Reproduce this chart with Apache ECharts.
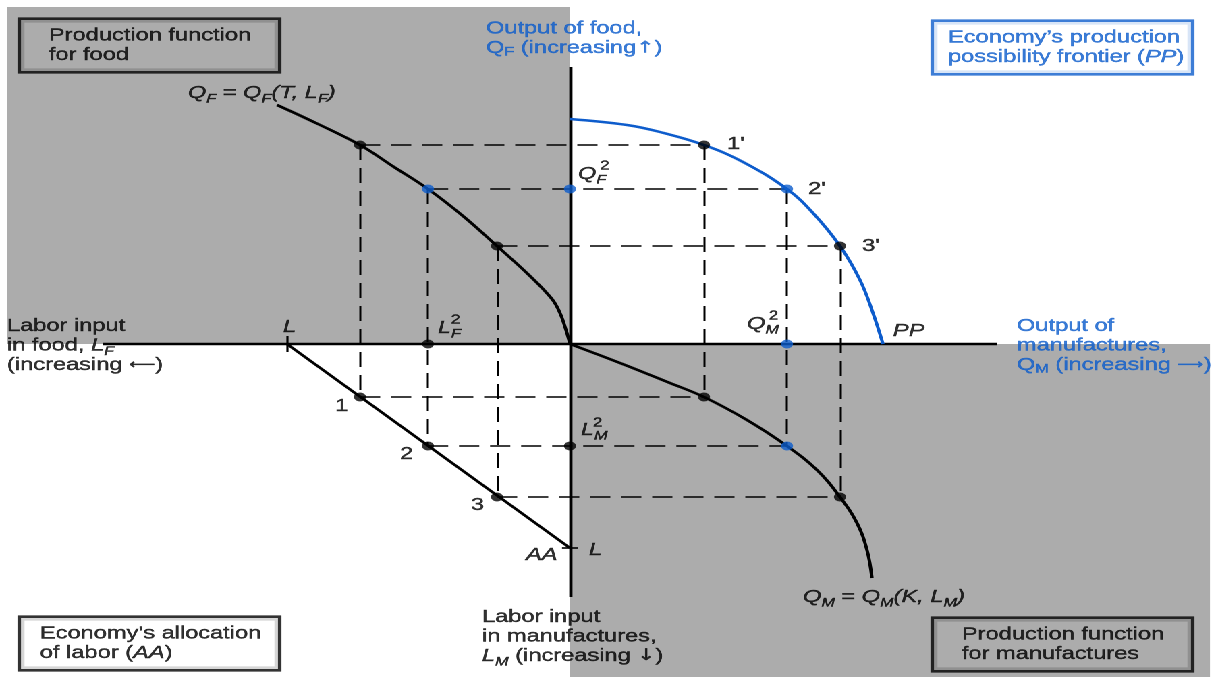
<!DOCTYPE html>
<html lang="en">
<head>
<meta charset="UTF-8">
<title>Production possibility frontier</title>
<script src="https://cdn.jsdelivr.net/npm/echarts@6/dist/echarts.min.js"></script>
<style>
  html, body {margin: 0; padding: 0; background: #fff; overflow: hidden;}
  #wrap {width: 1216px; height: 677px; overflow: hidden;}
  /* the source figure is stretched sideways, so the chart gets the same stretch */
  #chart {width: 901px; height: 677px; transform: scaleX(1.3496); transform-origin: 0 0;}
</style>
</head>
<body>
<div id="wrap"><div id="chart"></div></div>
<script>
  // three labour allocations (points 1, 2, 3)
  var allocLF = [21.0, 14.2, 7.3];   // labour in food (plotted to the left)
  var allocQF = [19.9, 15.5, 9.8];   // food output
  var allocQM = [13.4, 21.7, 27.0];  // manufactures output
  var allocLM = [5.3, 10.2, 15.3];   // labour in manufactures (plotted downward)
  var totalL = [28.3, 20.4];         // L on the food axis, L on the manufactures axis

  // production function for food
  var foodLF = [29.3, 25.2, 21.0, 17.6, 14.2, 10.7, 7.3, 4.0, 1.8, 1.0, 0.4, 0];
  var foodQF = [23.9, 22.0, 19.9, 17.7, 15.5, 12.8, 9.8, 6.8, 4.5, 3.1, 1.4, 0];
  // production possibility frontier
  var ppQM = [0, 5.7, 9.0, 13.4, 17.3, 21.7, 24.3, 27.0, 29.0, 30.3, 31.3];
  var ppQF = [22.5, 21.9, 21.2, 19.9, 18.2, 15.5, 13.1, 9.8, 6.4, 3.1, 0];
  // production function for manufactures
  var manQM = [0, 5.0, 10.0, 13.4, 17.7, 21.7, 24.7, 27.0, 28.7, 29.7, 30.2];
  var manLM = [0, 1.9, 3.9, 5.3, 7.6, 10.2, 12.6, 15.3, 17.9, 20.6, 23.4];

  // axis extents
  var axisX = [-46.7, 42.7];
  var axisY = [-25.3, 27.7];
  // shaded quadrants [x1, y1, x2, y2]
  var shaded = [[-56.3, 0, 0, 33.7], [0, -33.3, 64, 0]];

  var FONT = '"Liberation Sans", Arial, sans-serif';
  var ARROW_FONT = '"DejaVu Sans", sans-serif';
  var BLUE = '#0d5ccc';
  var GRAY = '#acacac';

  function tok(size, color, italic, drop, family) {
    var s = {fontFamily: family || FONT, fontSize: size, color: color, fontStyle: italic ? 'italic' : 'normal',
             textBorderColor: color, textBorderWidth: 0.4};
    if (drop) s.padding = [drop, 0, 0, 0];
    return s;
  }
  var rich = {
    n: tok(17.5, '#000'), i: tok(17.5, '#000', true),
    is: tok(12, '#000', true, 12),
    b: tok(17.5, BLUE), bi: tok(17.5, BLUE, true), bs: tok(12, BLUE, false, 8),
    ar: tok(16, '#000', false, 0, ARROW_FONT), bar: tok(16, BLUE, false, 0, ARROW_FONT),
    lar: tok(13.5, '#000', false, 0, ARROW_FONT), blar: tok(13.5, BLUE, false, 0, ARROW_FONT),
    sup: tok(12.5, '#000')
  };

  // text notes: anchor is the left edge, vertical middle unless v is given
  var notes = [
    {at: [-8.4, 32.5], v: 'top', text: '{b|Output of food,}\n{b|Q}{bs|F}{b| (increasing}{bar|↑}{b|)}'},
    {at: [-38.2, 25.1], text: '{i|Q}{is|F}{n| = }{i|Q}{is|F}{i|(T, L}{is|F}{i|)}'},
    {at: [-56.3, -0.15], text: '{n|Labor input}\n{n|in food, }{i|L}{is|F}\n{n|(increasing }{lar|⟵}{n|)}'},
    {at: [-28.7, 1.7], text: '{i|L}'},
    {at: [-13.2, 1.6], text: '{i|L}{is|F}'}, {at: [-11.9, 2.4], text: '{sup|2}'},
    {at: [0.8, 17.0], text: '{i|Q}{is|F}'}, {at: [3.0, 17.8], text: '{sup|2}'},
    {at: [15.7, 20.0], text: "{n|1'}"}, {at: [23.8, 15.5], text: "{n|2'}"}, {at: [29.2, 9.8], text: "{n|3'}"},
    {at: [17.7, 2.0], text: '{i|Q}{is|M}'}, {at: [19.9, 2.8], text: '{sup|2}'},
    {at: [32.3, 1.3], text: '{i|PP}'},
    {at: [44.7, -0.15], text: '{b|Output of}\n{b|manufactures,}\n{b|Q}{bs|M}{b| (increasing }{blar|⟶}{b|)}'},
    {at: [-23.5, -6.2], text: '{n|1}'}, {at: [-17.0, -11.0], text: '{n|2}'}, {at: [-9.9, -16.1], text: '{n|3}'},
    {at: [1.1, -8.6], text: '{i|L}{is|M}'}, {at: [2.3, -7.9], text: '{sup|2}'},
    {at: [-4.4, -21.1], text: '{i|AA}'},
    {at: [1.9, -20.6], text: '{i|L}'},
    {at: [-8.8, -29.25], text: '{n|Labor input}\n{n|in manufactures,}\n{i|L}{is|M}{n| (increasing }{ar|↓}{n|)}'},
    {at: [23.3, -25.3], text: '{i|Q}{is|M}{n| = }{i|Q}{is|M}{i|(K, L}{is|M}{i|)}'}
  ];

  // framed captions
  var boxes = [
    {at: [-54.9, 32.4], text: '{n|Production function}\n{n|for food}', fill: GRAY, edge: '#000', indent: 20.7},
    {at: [-54.9, -27.4], text: '{n|Economy’s allocation}\n{n|of labor (}{i|AA}{n|)}', fill: '#fff', edge: '#000', indent: 14},
    {at: [36.4, 32.2], text: '{b|Economy’s production}\n{b|possibility frontier (}{bi|PP}{b|)}', fill: '#fff', edge: BLUE, indent: 10.4},
    {at: [36.4, -27.5], text: '{n|Production function}\n{n|for manufactures}', fill: GRAY, edge: '#000', indent: 20.7}
  ];

  function zip(xs, ys, sx, sy) {
    return xs.map(function (v, k) { return [sx * v, sy * ys[k]]; });
  }

  // dashed guide lines
  var dashH = [], dashV = [];
  for (var i = 0; i < allocLF.length; i++) {
    dashH.push({coords: [[-allocLF[i], allocQF[i]], [allocQM[i], allocQF[i]]]});
    dashH.push({coords: [[-allocLF[i], -allocLM[i]], [allocQM[i], -allocLM[i]]]});
    dashV.push({coords: [[-allocLF[i], allocQF[i]], [-allocLF[i], -allocLM[i]]]});
    dashV.push({coords: [[allocQM[i], allocQF[i]], [allocQM[i], -allocLM[i]]]});
  }

  // solid straight lines: axes and AA
  var solid = [
    {coords: [[axisX[0], 0], [axisX[1], 0]]},
    {coords: [[0, axisY[0]], [0, axisY[1]]]},
    {coords: [[-totalL[0], 0], [0, -totalL[1]]]}
  ];
  // the two L ticks
  var ticks = [
    {coords: [[-totalL[0], 0.8], [-totalL[0], -0.8]]},
    {coords: [[-0.8, -totalL[1]], [0.8, -totalL[1]]]}
  ];

  // dots
  var dots = [];
  for (var j = 0; j < allocLF.length; j++) {
    var c = j === 1 ? BLUE : '#000';
    dots.push({value: [-allocLF[j], allocQF[j]], itemStyle: {color: c}});
    dots.push({value: [allocQM[j], allocQF[j]], itemStyle: {color: c}});
    dots.push({value: [allocQM[j], -allocLM[j]], itemStyle: {color: c}});
    dots.push({value: [-allocLF[j], -allocLM[j]], itemStyle: {color: '#000'}});
  }
  dots.push({value: [0, allocQF[1]], itemStyle: {color: BLUE}});
  dots.push({value: [allocQM[1], 0], itemStyle: {color: BLUE}});
  dots.push({value: [-allocLF[1], 0], itemStyle: {color: '#000'}});
  dots.push({value: [0, -allocLM[1]], itemStyle: {color: '#000'}});

  var noteData = notes.map(function (d) {
    return {value: d.at, text: d.text, label: {verticalAlign: d.v || 'middle'}};
  });
  var boxData = boxes.map(function (d) {
    return {
      value: d.at, text: d.text,
      label: {
        backgroundColor: d.fill, borderColor: d.edge, borderWidth: 2.6,
        padding: [6, 0, 6, d.indent], width: 190.4 - d.indent
      }
    };
  });

  var chart = echarts.init(document.getElementById('chart'), null, {devicePixelRatio: 2});
  var option = {
    animation: false,
    backgroundColor: '#fff',
    textStyle: {fontFamily: FONT},
    grid: {left: 0, right: 0, top: 0, bottom: 0},
    xAxis: {type: 'value', min: -57, max: 64.6, show: false},
    yAxis: {type: 'value', min: -33.3, max: 34.4, show: false},
    series: [
      {
        type: 'custom', silent: true, z: 0,
        data: shaded,
        renderItem: function (params, api) {
          var p1 = api.coord([api.value(0), api.value(3)]);
          var p2 = api.coord([api.value(2), api.value(1)]);
          return {type: 'rect', shape: {x: p1[0], y: p1[1], width: p2[0] - p1[0], height: p2[1] - p1[1]},
                  style: {fill: GRAY}};
        }
      },
      {type: 'lines', coordinateSystem: 'cartesian2d', silent: true, z: 1, data: dashH,
       lineStyle: {color: '#000', width: 1.6, type: [15, 8], opacity: 1}},
      {type: 'lines', coordinateSystem: 'cartesian2d', silent: true, z: 1, data: dashV,
       lineStyle: {color: '#000', width: 1.5, type: [15, 8], opacity: 1}},
      {type: 'lines', coordinateSystem: 'cartesian2d', silent: true, z: 2, data: solid,
       lineStyle: {color: '#000', width: 2.4, opacity: 1}},
      {type: 'lines', coordinateSystem: 'cartesian2d', silent: true, z: 2, data: ticks,
       lineStyle: {color: '#000', width: 1.6, opacity: 1}},
      {type: 'line', silent: true, z: 3, smooth: 0.4, showSymbol: false,
       data: zip(foodLF, foodQF, -1, 1), lineStyle: {color: '#000', width: 2.5}},
      {type: 'line', silent: true, z: 3, smooth: 0.4, showSymbol: false,
       data: zip(ppQM, ppQF, 1, 1), lineStyle: {color: BLUE, width: 2.5}},
      {type: 'line', silent: true, z: 3, smooth: 0.4, showSymbol: false,
       data: zip(manQM, manLM, 1, -1), lineStyle: {color: '#000', width: 2.5}},
      {type: 'scatter', silent: true, z: 4, symbolSize: 9, data: dots},
      {
        type: 'scatter', silent: true, z: 5, symbolSize: 0, data: noteData,
        label: {show: true, position: [0, 0], align: 'left', lineHeight: 19.5, rich: rich,
                textBorderWidth: 0, formatter: function (p) { return p.data.text; }}
      },
      {
        type: 'scatter', silent: true, z: 5, symbolSize: 0, data: boxData,
        label: {show: true, position: [0, 0], align: 'left', verticalAlign: 'top', lineHeight: 19.5, rich: rich,
                textBorderWidth: 0, formatter: function (p) { return p.data.text; }}
      }
    ]
  };
  chart.setOption(option);
</script>
</body>
</html>
